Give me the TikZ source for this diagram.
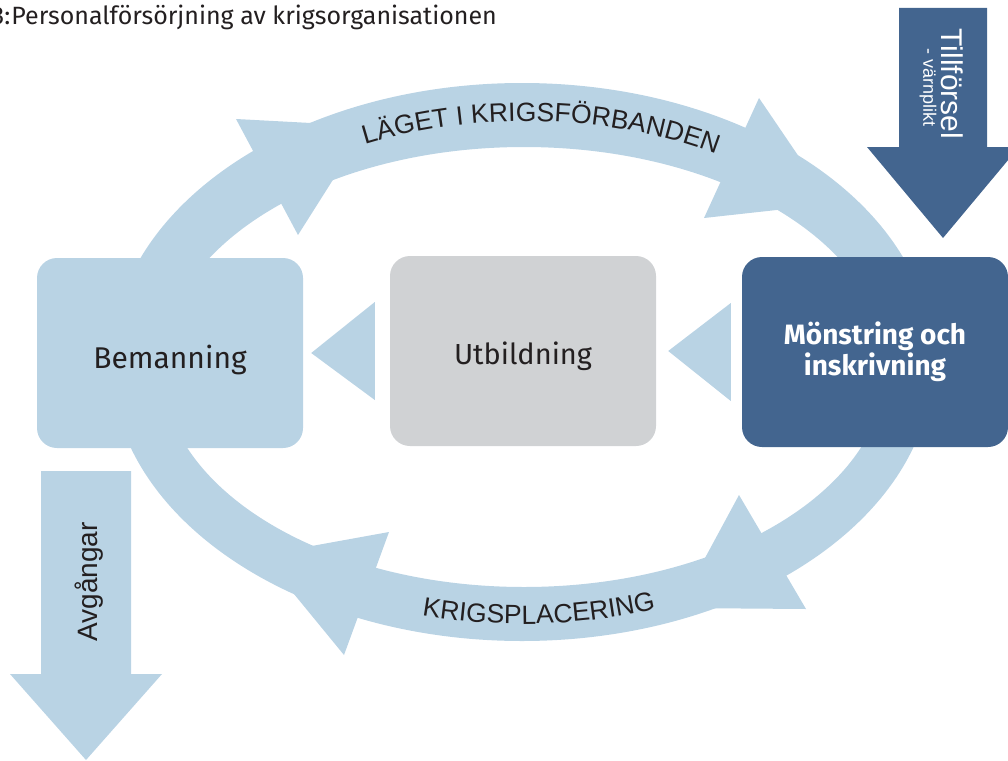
\documentclass[tikz,border=0pt]{standalone}
\usepackage{fontspec}
\setmainfont{Fira Sans}
\newfontfamily\arcfont{Liberation Sans}
\usetikzlibrary{calc,decorations.text}
\definecolor{ljusbla}{HTML}{B9D3E4}
\definecolor{morkbla}{HTML}{43658F}
\definecolor{gra}{HTML}{D0D2D4}
\definecolor{textsvart}{HTML}{231F20}
\tikzset{
  ruta/.style={rectangle, rounded corners=20pt, minimum width=266pt, minimum height=190pt, inner sep=0pt, align=center, text=textsvart, font=\fontsize{30}{31}\selectfont},
  bagtext/.style={decorate, decoration={text along path, text align=center, text color=textsvart, text={|\arcfont\fontsize{26.5}{27}\selectfont|#1}}},
}
\begin{document}
\begin{tikzpicture}[x=1pt, y=-1pt]
\useasboundingbox (0,0) rectangle (1008,760);
\node[anchor=base east, inner sep=0pt, text=textsvart, font=\fontsize{25}{25}\selectfont] (rubrik) at (497,25) {3:\kern1pt Personalförsörjning av krigsorganisationen};
\fill[ljusbla, even odd rule] (522,362) ellipse [x radius=411, y radius=279] (524,367) ellipse [x radius=362, y radius=220];
\fill[ljusbla] (236,119) -- (298,235) -- (367,126) -- cycle;
\fill[ljusbla] (759,98) -- (704,218) -- (831,204) -- cycle;
\fill[ljusbla] (806,609) -- (739,495) -- (678,608) -- cycle;
\fill[ljusbla] (389,532) -- (344,655) -- (262,555) -- cycle;
\path[bagtext={LÄGET I KRIGSFÖRBANDEN}] (526,364) ++(232.7:376 and 243) arc [start angle=232.7, end angle=312.7, x radius=376, y radius=243];
\path[bagtext={KRIGSPLACERING}] (523,364) ++(122.4:396 and 260) arc [start angle=122.4, end angle=52.4, x radius=396, y radius=260];
\node[ruta, fill=ljusbla, text height=30pt, text depth=0pt] (bem) at (170,353) {Bemanning};
\node[ruta, fill=gra, text height=26pt, text depth=0pt, font=\fontsize{29}{31}\selectfont] (utb) at (523,351) {Utbildning};
\node[ruta, fill=morkbla, text=white, font=\fontsize{28}{31}\selectfont\bfseries] (mon) at (875,352) {Mönstring och\\inskrivning};
\fill[ljusbla] ($(utb.west)+(-15,-49)$) -- ($(utb.west)+(-15,49)$) -- ($(bem.east)+(8,0)$) -- cycle;
\fill[ljusbla] ($(mon.west)+(-11,-49)$) -- ($(mon.west)+(-11,49)$) -- ($(utb.east)+(12,0)$) -- cycle;
\fill[morkbla] (899,8) -- (987,8) -- (987,147) -- (1019,147) -- (943,238) -- (867,147) -- (899,147) -- cycle;
\node[rotate=-90, text=white, font=\arcfont\fontsize{30}{30}\selectfont] (till) at (952,84) {Tillförsel};
\node[rotate=-90, text=white, font=\arcfont\fontsize{18}{18}\selectfont] (varn) at (928,88) {- värnplikt};
\fill[ljusbla] (41,471) -- (131,471) -- (131,674) -- (162,674) -- (86,760) -- (10,674) -- (41,674) -- cycle;
\node[rotate=90, text=textsvart, font=\arcfont\fontsize{28}{28}\selectfont] (avg) at (89,582) {Avgångar};
\end{tikzpicture}
\end{document}
